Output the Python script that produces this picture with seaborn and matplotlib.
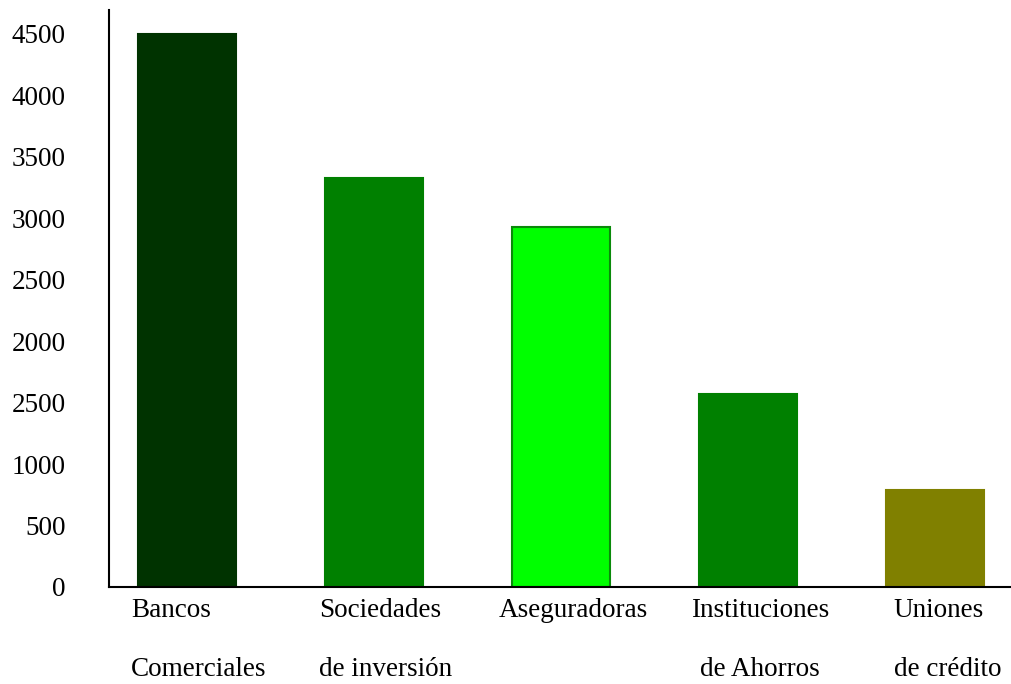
import matplotlib
matplotlib.use("Agg")
import matplotlib.pyplot as plt
import matplotlib.transforms as mtransforms
import seaborn as sns
import pandas as pd

# Categories and values
categories = ["Bancos\nComerciales", "Sociedades\nde inversión", "Aseguradoras",
              "Instituciones\nde Ahorros", "Uniones\nde crédito"]
values = [4500, 3330, 2930, 1570, 790]
bar_colors = ["#003300", "#008000", "#00FF00", "#008000", "#808000"]
edge_colors = ["#003300", "#008000", "#0A8A0A", "#008000", "#808000"]

# Y axis ticks and their printed labels
ytick_values = [0, 500, 1000, 1500, 2000, 2500, 3000, 3500, 4000, 4500]
ytick_labels = ["0", "500", "1000", "2500", "2000", "2500", "3000", "3500", "4000", "4500"]

sns.set_style("white")
plt.rcParams["font.family"] = ["Liberation Serif", "DejaVu Serif"]
plt.rcParams["text.color"] = "black"
plt.rcParams["xtick.color"] = "black"
plt.rcParams["ytick.color"] = "black"

df = pd.DataFrame({"categoria": categories, "valor": values})

fig = plt.figure(figsize=(10.12, 6.84), dpi=100)
ax = fig.add_axes([109 / 1012, 97 / 684, 903 / 1012, 577 / 684])

sns.barplot(data=df, x="categoria", y="valor", order=categories,
            hue="categoria", palette=dict(zip(categories, bar_colors)),
            legend=False, width=0.524, ax=ax, saturation=1)

for patch, ec in zip(ax.patches, edge_colors):
    patch.set_edgecolor(ec)
    patch.set_linewidth(1.5)

ax.set_ylim(0, 4695)
ax.set_xlim(-0.416, 4.410)
ax.set_yticks(ytick_values)
ax.set_yticklabels(ytick_labels, fontsize=19.5, color="black")
ax.set_xlabel("")
ax.set_ylabel("")

ax.tick_params(axis="y", length=0, pad=31)
ax.tick_params(axis="x", length=0, pad=8)

shift = mtransforms.ScaledTranslation(12 / 100, 0, fig.dpi_scale_trans)
for i, lbl in enumerate(ax.get_xticklabels()):
    lbl.set_fontsize(19.5)
    lbl.set_color("black")
    lbl.set_linespacing(2.8)
    lbl.set_multialignment("center" if i == 3 else "left")
    lbl.set_transform(lbl.get_transform() + shift)

for side in ["top", "right"]:
    ax.spines[side].set_visible(False)
for side in ["left", "bottom"]:
    ax.spines[side].set_color("black")
    ax.spines[side].set_linewidth(1.5)

fig.savefig("out.png", dpi=100)
